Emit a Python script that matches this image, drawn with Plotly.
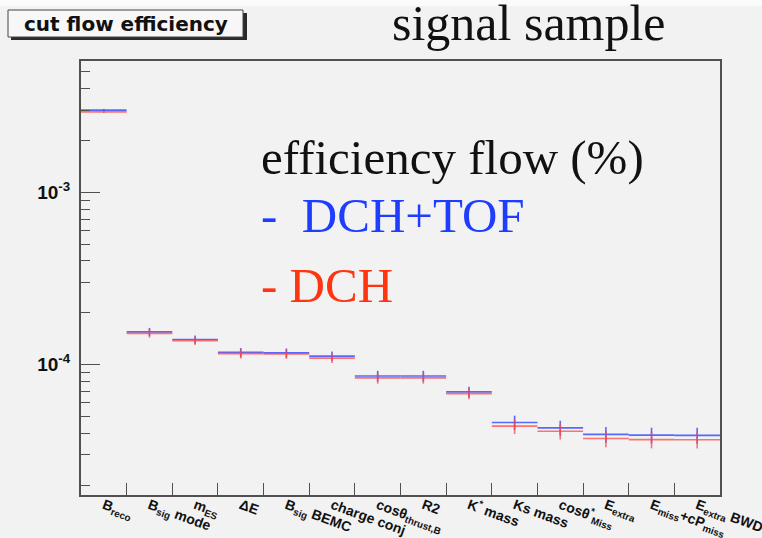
import numpy as np
import plotly.graph_objects as go

# ---------------- data ----------------
cut_labels = [
    "B<sub>reco</sub>", "B<sub>sig</sub> mode", "m<sub>ES</sub>", "ΔE",
    "B<sub>sig</sub> BEMC", "charge conj", "cosθ<sub>thrust,B</sub>", "R2",
    "K<sup>*</sup> mass", "Ks mass", "cosθ<sup>*</sup><sub>Miss</sub>",
    "E<sub>extra</sub>", "E<sub>miss</sub>+cP<sub>miss</sub>", "E<sub>extra</sub> BWD",
]
eff_dch_tof = [3.00e-3, 1.55e-4, 1.40e-4, 1.178e-4, 1.17e-4, 1.122e-4, 8.6e-5,
               8.6e-5, 6.95e-5, 4.62e-5, 4.30e-5, 3.94e-5, 3.90e-5, 3.89e-5]
eff_dch = [2.93e-3, 1.52e-4, 1.38e-4, 1.158e-4, 1.155e-4, 1.093e-4, 8.38e-5,
           8.38e-5, 6.80e-5, 4.40e-5, 4.11e-5, 3.73e-5, 3.68e-5, 3.67e-5]
err_dch_tof = [4.0e-5, 8.5e-6, 7.8e-6, 7.2e-6, 7.2e-6, 7.0e-6, 6.2e-6,
               6.2e-6, 5.0e-6, 4.4e-6, 4.3e-6, 4.1e-6, 4.1e-6, 4.1e-6]
err_dch = [4.0e-5, 8.5e-6, 7.8e-6, 7.2e-6, 7.2e-6, 7.0e-6, 6.2e-6,
           6.2e-6, 5.0e-6, 4.4e-6, 4.3e-6, 4.1e-6, 4.1e-6, 4.1e-6]
y_major = [1e-4, 1e-3]
y_major_text = ["<b>10<sup>-4</sup></b>", "<b>10<sup>-3</sup></b>"]

# ---------------- layout helpers ----------------
W, H = 762, 538
L, R, T, B = 81, 42, 61, 43
PW, PH = W - L - R, H - T - B


def px(x):
    return (x - L) / PW


def py(y):
    return (H - B - y) / PH


n = len(cut_labels)
xpos = np.arange(n)
edges = np.arange(n - 1) + 0.5
y_minor = [m * 10.0 ** e for e in (-5, -4, -3) for m in range(2, 10)
           if 1.75e-5 < m * 10.0 ** e < 5.8e-3]

fig = go.Figure()


def add_series(vals, errs, color, name):
    fig.add_trace(go.Scatter(
        x=xpos, y=vals, name=name, mode="markers",
        marker=dict(size=1, color="rgba(0,0,0,0)"),
        error_x=dict(type="constant", value=0.5, width=0, color=color, thickness=1.7),
        error_y=dict(type="data", array=errs, width=0, color=color, thickness=1.6),
        showlegend=False, hoverinfo="skip",
    ))


add_series(eff_dch_tof, err_dch_tof, "rgba(60,80,255,0.85)", "DCH+TOF")
add_series(eff_dch, err_dch, "rgba(255,70,70,0.75)", "DCH")

axis_col = "#505050"
fig.update_xaxes(
    range=[-0.5, n - 0.5], showgrid=False, zeroline=False,
    showline=True, linecolor=axis_col, linewidth=2, mirror=True,
    tickmode="array", tickvals=xpos, ticktext=["<b>%s</b>" % t for t in cut_labels],
    ticks="", tickangle=20, automargin=False, ticklabeloverflow="allow",
    ticklabelstandoff=-5,
    tickfont=dict(family="Liberation Sans", size=14, color="#111"),
    minor=dict(tickmode="array", tickvals=edges, ticks="inside", ticklen=12,
               tickwidth=1.2, tickcolor=axis_col),
)
fig.update_yaxes(
    type="log", range=[-4.756, -2.238], showgrid=False, zeroline=False,
    showline=True, linecolor=axis_col, linewidth=2, mirror=True,
    tickmode="array", tickvals=y_major, ticktext=y_major_text,
    ticks="inside", ticklen=19, tickwidth=1.2, tickcolor=axis_col,
    ticklabelstandoff=5, automargin=False,
    tickfont=dict(family="Liberation Sans", size=19, color="#111"),
    minor=dict(tickmode="array", tickvals=y_minor, ticks="inside", ticklen=9,
               tickwidth=1.2, tickcolor=axis_col),
)

shapes = [
    dict(type="rect", xref="paper", yref="paper", x0=px(0), x1=px(W), y0=py(0), y1=py(6),
         fillcolor="#fbfbfb", line=dict(width=0), layer="below"),
    dict(type="rect", xref="paper", yref="paper", x0=px(11), x1=px(247), y0=py(13), y1=py(40),
         fillcolor="#2a2a2a", line=dict(width=0)),
    dict(type="rect", xref="paper", yref="paper", x0=px(8), x1=px(243), y0=py(10), y1=py(37),
         fillcolor="#f7f7f7", line=dict(color="#444", width=1)),
]

serif = "Liberation Serif"
annotations = [
    dict(text="<b>cut flow efficiency</b>", x=px(126), y=py(23.5), xanchor="center",
         yanchor="middle", font=dict(family="DejaVu Sans", size=20, color="#111")),
    dict(text="signal sample", x=px(390), y=py(23), xanchor="left", yanchor="middle",
         font=dict(family=serif, size=50, color="#111")),
    dict(text="efficiency flow (%)", x=px(259), y=py(157), xanchor="left", yanchor="middle",
         font=dict(family=serif, size=49, color="#111")),
    dict(text="-\u00a0\u00a0DCH+TOF", x=px(259), y=py(215), xanchor="left", yanchor="middle",
         font=dict(family=serif, size=49, color="#1f3dff")),
    dict(text="- DCH", x=px(259), y=py(285), xanchor="left", yanchor="middle",
         font=dict(family=serif, size=49, color="#ff3511")),
]
for a in annotations:
    a.update(xref="paper", yref="paper", showarrow=False)

fig.update_layout(
    width=W, height=H, margin=dict(l=L, r=R, t=T, b=B),
    paper_bgcolor="#f2f2f2", plot_bgcolor="#f2f2f2",
    shapes=shapes, annotations=annotations, showlegend=False,
)
fig.write_html("out.html")
